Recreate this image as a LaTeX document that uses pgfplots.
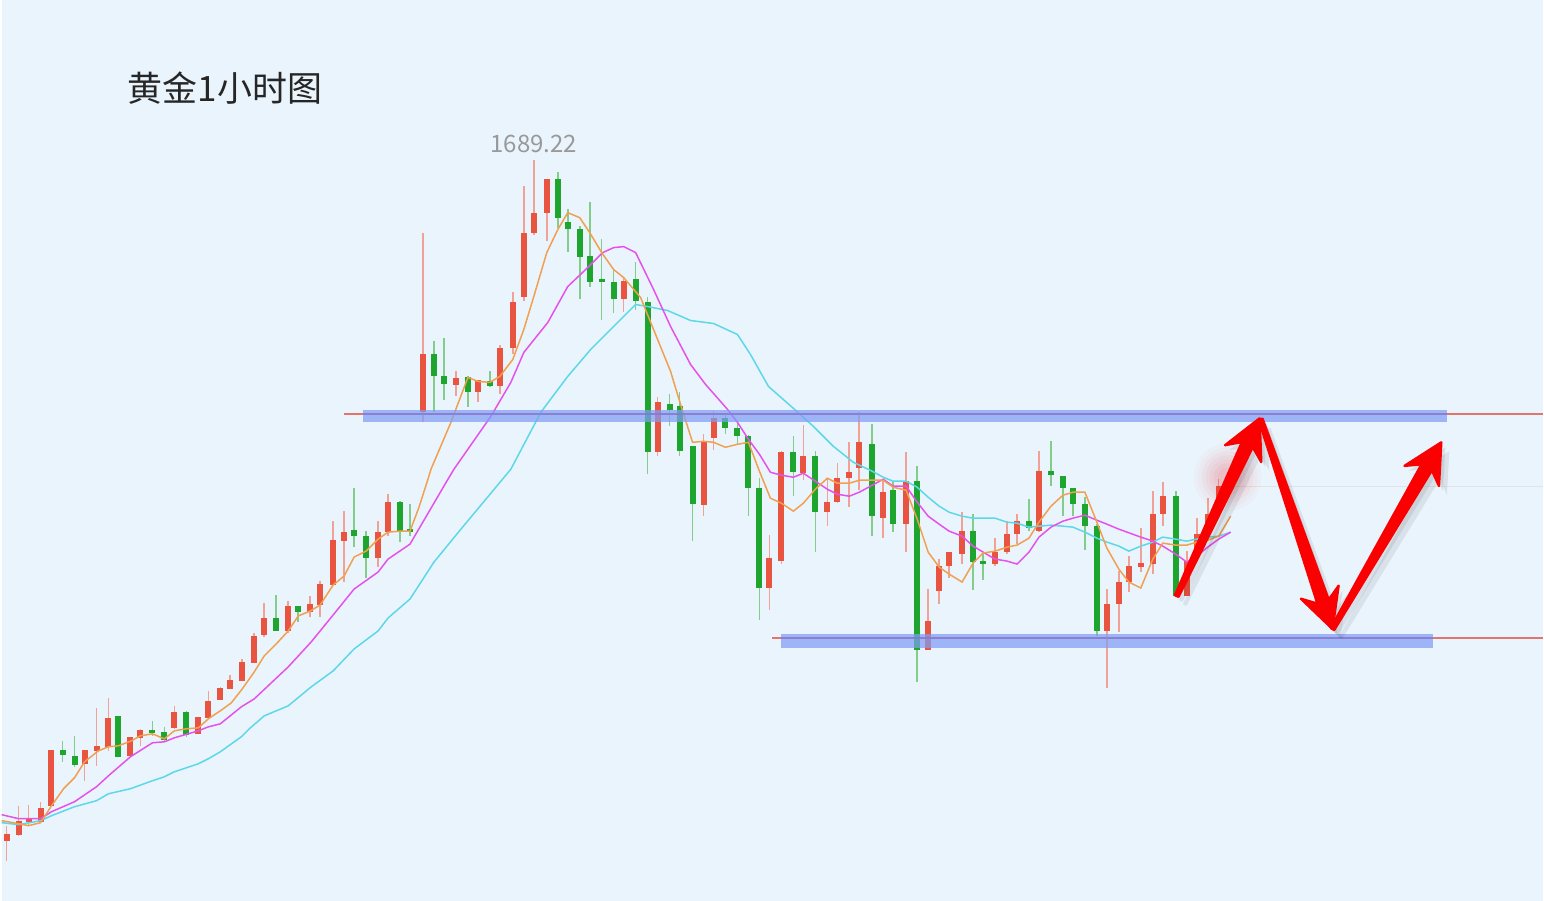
\documentclass[border=0pt]{standalone}
\usepackage{pgfplots}
\pgfplotsset{compat=1.18}
\usepackage{pgfplotstable}
\usepackage{fontspec}
\setmainfont{Noto Sans CJK SC}
\usetikzlibrary{arrows.meta}
\definecolor{bg}{RGB}{234,244,252}
\definecolor{cred}{RGB}{232,84,64}
\definecolor{cgreen}{RGB}{30,165,45}
\definecolor{maor}{RGB}{240,160,80}
\definecolor{mamg}{RGB}{228,82,235}
\definecolor{macy}{RGB}{92,216,232}
\definecolor{band}{RGB}{128,158,245}
\definecolor{rline}{RGB}{226,118,108}
\definecolor{pline}{RGB}{125,115,215}
\definecolor{arr}{RGB}{250,0,0}

% candles in picture units: x, wick top (hi), wick bottom (lo), body top (t), body bottom (b)
\pgfplotstableread{
x hi lo t b
5 827 862 835 842
17 807 837 822 836
27 806 827 819 823
39 803 823 809 823
49 751 807 751 807
83 751 782 751 765
95 709 767 747 752
107 699 752 719 748
129 738 757 738 757
139 730 747 731 739
173 707 730 713 729
197 718 735 718 735
207 692 720 702 719
219 688 701 689 701
229 676 690 681 690
241 660 682 663 682
253 634 664 637 664
263 604 638 619 636
287 602 634 607 632
309 597 618 605 613
319 582 618 585 606
332 522 587 541 586
343 512 583 533 542
377 522 568 533 559
387 495 537 503 533
422 233 423 355 413
455 372 397 379 386
477 381 403 381 393
499 346 395 349 387
512 292 355 302 349
523 186 301 233 297
533 160 235 213 233
546 179 241 179 213
623 278 312 281 299
657 398 457 403 453
703 435 517 442 506
713 412 451 419 439
769 536 611 559 589
781 452 565 453 562
803 426 481 457 474
827 480 527 503 513
837 464 504 479 503
849 443 508 473 479
859 413 491 443 469
883 482 539 493 519
906 453 553 482 525
928 590 651 622 651
939 560 605 567 592
949 553 579 553 567
962 513 565 532 555
995 539 567 553 565
1007 522 555 535 553
1017 515 545 522 535
1039 452 533 472 532
1107 590 689 605 632
1119 572 633 583 605
1129 557 593 567 583
1141 529 573 564 568
1153 492 575 515 565
1163 483 527 497 515
1187 552 597 562 597
1197 519 550 535 550
1208 499 532 515 532
1219 480 500 487 500
}\redtab

\pgfplotstableread{
x hi lo t b
61 742 763 751 756
73 737 768 757 766
117 717 758 717 758
151 722 737 731 734
163 728 743 733 741
185 712 738 713 736
275 596 632 619 632
297 607 623 607 613
353 489 548 531 537
365 532 579 537 559
399 502 543 503 532
409 505 537 530 533
433 342 413 355 377
443 339 401 377 385
467 377 408 378 393
489 372 388 382 387
557 172 228 179 218
567 209 252 222 229
579 226 299 229 257
589 202 287 256 282
601 239 321 279 282
613 268 313 282 299
635 262 310 279 301
647 297 475 302 453
669 395 427 405 411
679 393 457 407 452
692 447 542 447 505
725 415 435 419 429
737 423 445 429 437
748 436 517 437 489
759 479 621 489 589
793 437 497 453 473
815 452 553 457 513
872 425 537 445 517
893 482 533 491 525
917 467 683 482 651
973 515 591 532 563
983 555 581 562 565
1029 500 532 522 529
1051 442 487 472 476
1063 477 517 477 489
1073 489 517 489 505
1085 498 551 505 527
1097 525 637 527 632
1176 492 597 497 597
}\greentab

\begin{document}
\begin{tikzpicture}
\begin{axis}[scale only axis, width=772pt, height=451pt,
  xmin=0, xmax=1544, ymin=0, ymax=902, y dir=reverse,
  hide axis, clip=false]
\fill[bg] (axis cs:0,0) rectangle (axis cs:1544,902);

% last-price line
\draw[gray!22, line width=0.5pt] (axis cs:1222,487) -- (axis cs:1544,487);
% support / resistance lines (under the bands)
\draw[rline, line width=0.85pt] (axis cs:343,414.5) -- (axis cs:1544,414.5);
\draw[rline, line width=0.85pt] (axis cs:772,639) -- (axis cs:1544,639);

% wicks
\addplot[draw=none, mark=none, forget plot, error bars/.cd, y dir=both, y explicit, error mark=none,
  error bar style={draw=cred!55, line width=0.8pt}]
  table[x=x, y expr={(\thisrow{hi}+\thisrow{lo})/2}, y error expr={(\thisrow{lo}-\thisrow{hi})/2}] {\redtab};
\addplot[draw=none, mark=none, forget plot, error bars/.cd, y dir=both, y explicit, error mark=none,
  error bar style={draw=cgreen!55, line width=0.8pt}]
  table[x=x, y expr={(\thisrow{hi}+\thisrow{lo})/2}, y error expr={(\thisrow{lo}-\thisrow{hi})/2}] {\greentab};
% bodies
\addplot[draw=none, mark=none, forget plot, error bars/.cd, y dir=both, y explicit, error mark=none,
  error bar style={draw=cred, line width=3pt}]
  table[x=x, y expr={(\thisrow{t}+\thisrow{b})/2}, y error expr={(\thisrow{b}-\thisrow{t})/2}] {\redtab};
\addplot[draw=none, mark=none, forget plot, error bars/.cd, y dir=both, y explicit, error mark=none,
  error bar style={draw=cgreen, line width=3pt}]
  table[x=x, y expr={(\thisrow{t}+\thisrow{b})/2}, y error expr={(\thisrow{b}-\thisrow{t})/2}] {\greentab};

% moving averages
\addplot[macy, line width=0.75pt] coordinates {
(0,824) (17,826) (39,822) (50,817) (73,808) (95,802) (107,795) (129,790) (151,782) (163,778) (173,773) (197,765) (207,760) (219,753) (240,738) (248,730) (263,717) (287,707) (310,688) (332,672) (353,650) (377,632) (387,619) (409,600) (433,563) (460,530) (510,470) (540,413) (567,377) (590,350) (613,327) (635,305) (647,307) (667,311) (690,321) (713,324) (737,335) (750,355) (768,387) (793,409) (813,427) (833,447) (853,463) (872,472) (883,478) (893,482) (906,482) (917,488) (928,498) (939,507) (949,513) (962,517) (973,519) (983,519) (995,519) (1007,523) (1017,524) (1029,528) (1039,527) (1051,526) (1063,527) (1073,528) (1085,533) (1097,539) (1107,543) (1119,547) (1129,552) (1141,547) (1153,543) (1163,538) (1176,540) (1187,542) (1197,540) (1208,538) (1219,537) (1231,533)};
\addplot[mamg, line width=0.75pt] coordinates {
(0,816) (17,820) (39,820) (50,813) (73,803) (95,788) (107,777) (129,758) (151,744) (163,743) (173,739) (197,732) (207,728) (219,725) (240,708) (253,700) (287,668) (310,643) (332,616) (353,590) (377,573) (387,560) (409,545) (447,480) (453,470) (490,417) (510,383) (523,353) (547,323) (567,287) (587,268) (602,253) (613,248) (623,247) (635,253) (653,290) (670,327) (690,365) (705,385) (727,410) (737,423) (748,440) (759,455) (770,473) (781,476) (793,478) (803,474) (815,482) (827,490) (837,495) (849,497) (859,493) (872,486) (883,480) (893,487) (906,487) (917,503) (928,517) (939,525) (949,532) (962,537) (973,547) (983,553) (995,560) (1007,562) (1017,565) (1029,553) (1039,538) (1051,528) (1063,522) (1073,519) (1085,516) (1097,521) (1107,525) (1119,530) (1141,538) (1153,542) (1163,547) (1176,555) (1187,563) (1197,557) (1208,548) (1219,540) (1231,533)};
\addplot[maor, line width=0.75pt] coordinates {
(0,822) (17,825) (27,827) (39,824) (50,807) (62,790) (73,779) (83,763) (97,752) (107,748) (117,747) (130,742) (139,737) (151,735) (163,740) (173,732) (185,730) (197,729) (207,720) (219,712) (230,704) (241,690) (253,673) (263,657) (275,645) (287,632) (297,617) (309,612) (319,606) (332,586) (343,577) (353,558) (365,552) (377,540) (387,533) (399,532) (409,532) (418,508) (427,480) (430,470) (450,423) (467,378) (477,382) (489,383) (499,377) (512,360) (523,330) (533,297) (546,253) (557,230) (567,213) (579,218) (589,233) (601,253) (613,270) (623,278) (640,298) (655,335) (670,372) (680,405) (692,443) (703,442) (713,443) (725,448) (737,445) (748,443) (759,472) (770,499) (781,504) (793,512) (803,504) (815,490) (827,479) (837,484) (849,484) (859,481) (872,481) (883,481) (893,488) (906,491) (917,520) (928,553) (939,568) (949,575) (962,583) (973,564) (983,554) (995,552) (1007,548) (1017,546) (1029,539) (1039,523) (1051,507) (1063,496) (1073,493) (1085,493) (1097,523) (1107,549) (1119,570) (1129,583) (1141,589) (1153,560) (1163,544) (1176,546) (1187,546) (1197,543) (1208,541) (1219,537) (1231,517)};

% bands
\fill[band, opacity=0.72] (axis cs:362,410.5) rectangle (axis cs:1448,423);
\draw[pline, opacity=0.6, line width=0.7pt] (axis cs:362,414.5) -- (axis cs:1448,414.5);
\fill[band, opacity=0.72] (axis cs:781,635.5) rectangle (axis cs:1434,649);
\draw[pline, opacity=0.6, line width=0.7pt] (axis cs:781,639) -- (axis cs:1434,639);

% soft glow
\fill[red, opacity=0.025] (axis cs:1228,478) circle (17pt);
\fill[red, opacity=0.025] (axis cs:1228,478) circle (15pt);
\fill[red, opacity=0.03] (axis cs:1228,478) circle (13pt);
\fill[red, opacity=0.03] (axis cs:1228,478) circle (11pt);
\fill[red, opacity=0.035] (axis cs:1228,478) circle (9pt);
\fill[red, opacity=0.04] (axis cs:1228,478) circle (7pt);
\fill[red, opacity=0.04] (axis cs:1228,478) circle (5pt);

% arrow shadows
\begin{scope}[xshift=2pt, yshift=-2.5pt]
\fill[black, opacity=0.08] (axis cs:1178.81,597.85) -- (axis cs:1253.18,447.82) -- (axis cs:1261.65,462.80) -- (axis cs:1260,419) -- (axis cs:1225.39,445.90) -- (axis cs:1242.30,442.74) -- (axis cs:1175.19,596.15) -- cycle;
\fill[black, opacity=0.08] (axis cs:1259.11,420.65) -- (axis cs:1317.85,604.56) -- (axis cs:1301.35,599.69) -- (axis cs:1333,630) -- (axis cs:1339.15,586.61) -- (axis cs:1329.19,600.64) -- (axis cs:1262.89,419.35) -- cycle;
\fill[black, opacity=0.08] (axis cs:1334.73,631.01) -- (axis cs:1432.57,471.08) -- (axis cs:1439.64,486.77) -- (axis cs:1442,443) -- (axis cs:1405.08,466.63) -- (axis cs:1422.21,465.04) -- (axis cs:1331.27,628.99) -- cycle;
\end{scope}
\begin{scope}[xshift=4pt, yshift=-4.5pt]
\fill[black, opacity=0.07] (axis cs:1178.81,597.85) -- (axis cs:1253.18,447.82) -- (axis cs:1261.65,462.80) -- (axis cs:1260,419) -- (axis cs:1225.39,445.90) -- (axis cs:1242.30,442.74) -- (axis cs:1175.19,596.15) -- cycle;
\fill[black, opacity=0.07] (axis cs:1259.11,420.65) -- (axis cs:1317.85,604.56) -- (axis cs:1301.35,599.69) -- (axis cs:1333,630) -- (axis cs:1339.15,586.61) -- (axis cs:1329.19,600.64) -- (axis cs:1262.89,419.35) -- cycle;
\fill[black, opacity=0.07] (axis cs:1334.73,631.01) -- (axis cs:1432.57,471.08) -- (axis cs:1439.64,486.77) -- (axis cs:1442,443) -- (axis cs:1405.08,466.63) -- (axis cs:1422.21,465.04) -- (axis cs:1331.27,628.99) -- cycle;
\end{scope}
% arrows
\fill[arr, draw=arr, line width=1.2pt, line join=round] (axis cs:1178.81,597.85) -- (axis cs:1253.18,447.82) -- (axis cs:1261.65,462.80) -- (axis cs:1260,419) -- (axis cs:1225.39,445.90) -- (axis cs:1242.30,442.74) -- (axis cs:1175.19,596.15) -- cycle;
\fill[arr, draw=arr, line width=1.2pt, line join=round] (axis cs:1259.11,420.65) -- (axis cs:1317.85,604.56) -- (axis cs:1301.35,599.69) -- (axis cs:1333,630) -- (axis cs:1339.15,586.61) -- (axis cs:1329.19,600.64) -- (axis cs:1262.89,419.35) -- cycle;
\fill[arr, draw=arr, line width=1.2pt, line join=round] (axis cs:1334.73,631.01) -- (axis cs:1432.57,471.08) -- (axis cs:1439.64,486.77) -- (axis cs:1442,443) -- (axis cs:1405.08,466.63) -- (axis cs:1422.21,465.04) -- (axis cs:1331.27,628.99) -- cycle;

% texts
\node[anchor=west, inner sep=0pt, font=\fontsize{17.5}{20}\selectfont, text=black!85] at (axis cs:126,88) {黄金1小时图};
\node[inner sep=0pt, font=\fontsize{12}{14}\selectfont, text=black!40] at (axis cs:533,144) {1689.22};
\end{axis}
\end{tikzpicture}
\end{document}
